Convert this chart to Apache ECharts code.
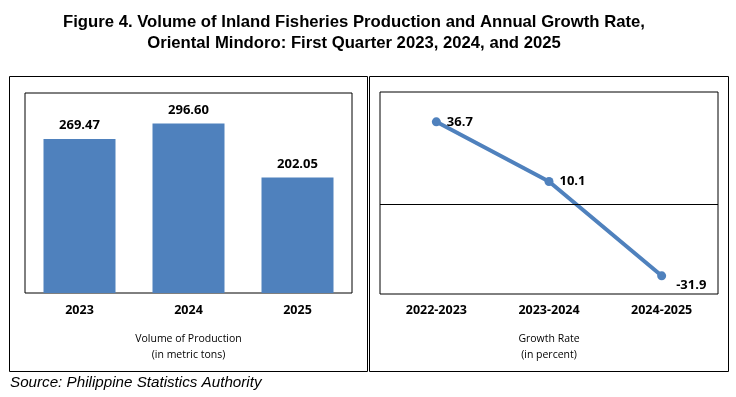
<!DOCTYPE html>
<html>
<head>
<meta charset="utf-8">
<script src="https://cdn.jsdelivr.net/npm/echarts@6/dist/echarts.min.js"></script>
<style>
  html, body { margin: 0; padding: 0; background: #fff; }
  #cht { width: 736px; height: 397px; }
</style>
</head>
<body>
<div id="cht"></div>
<script>
// volume of production, metric tons
var years = ['2023', '2024', '2025'];
var volume = [269.47, 296.60, 202.05];

// annual growth rate, percent
var periods = ['2022-2023', '2023-2024', '2024-2025'];
var growth = [36.7, 10.1, -31.9];

var chartFont = '"Open Sans", "Noto Sans", sans-serif';
var blue = '#4F81BD';

var config = {
    animation: false,
    backgroundColor: '#fff',
    graphic: [
        { type: 'text', x: 354, y: 12,
          style: { text: 'Figure 4. Volume of Inland Fisheries Production and Annual Growth Rate,\nOriental Mindoro: First Quarter 2023, 2024, and 2025',
                   fill: '#000', textAlign: 'center', lineHeight: 21,
                   font: 'bold 16.7px "Liberation Sans", Arial, sans-serif' } },
        { type: 'rect', shape: { x: 9.5, y: 76.5, width: 358, height: 295 },
          style: { fill: 'none', stroke: '#000', lineWidth: 1 } },
        { type: 'rect', shape: { x: 369.5, y: 76.5, width: 359, height: 295 },
          style: { fill: 'none', stroke: '#000', lineWidth: 1 } },
        { type: 'text', left: 10, top: 375,
          style: { text: 'Source: Philippine Statistics Authority', fill: '#000',
                   font: 'italic 15.2px "Liberation Sans", Arial, sans-serif' } }
    ],
    grid: [
        { left: 25, top: 93, width: 327, height: 200, show: true,
          borderColor: '#000', borderWidth: 1, backgroundColor: 'transparent' },
        { left: 380, top: 92, width: 338, height: 202, show: true,
          borderColor: '#000', borderWidth: 1, backgroundColor: 'transparent' }
    ],
    xAxis: [
        {
            type: 'category', gridIndex: 0, data: years,
            axisLine: { show: false }, axisTick: { show: false },
            axisLabel: { margin: 11, color: '#000', fontWeight: 'bold', fontSize: 12.5, fontFamily: chartFont },
            name: 'Volume of Production\n(in metric tons)',
            nameLocation: 'middle', nameGap: 38,
            nameTextStyle: { color: '#000', fontSize: 10.5, lineHeight: 16, fontFamily: chartFont }
        },
        {
            type: 'category', gridIndex: 1, data: periods,
            axisLine: { show: false, onZero: false }, axisTick: { show: false },
            axisLabel: { margin: 10, color: '#000', fontWeight: 'bold', fontSize: 12.5, fontFamily: chartFont },
            name: 'Growth Rate\n(in percent)',
            nameLocation: 'middle', nameGap: 37,
            nameTextStyle: { color: '#000', fontSize: 10.5, lineHeight: 16, fontFamily: chartFont }
        }
    ],
    yAxis: [
        { type: 'value', gridIndex: 0, min: 0, max: 350, show: false },
        { type: 'value', gridIndex: 1, min: -40, max: 50, show: false }
    ],
    series: [
        {
            type: 'bar', xAxisIndex: 0, yAxisIndex: 0,
            data: volume, barWidth: 72,
            itemStyle: { color: blue },
            label: {
                show: true, position: 'top', distance: 7,
                formatter: function (p) { return p.value.toFixed(2); },
                color: '#000', fontWeight: 'bold', fontSize: 13, fontFamily: chartFont
            }
        },
        {
            type: 'line', xAxisIndex: 1, yAxisIndex: 1,
            data: [
                growth[0],
                growth[1],
                { value: growth[2], label: { offset: [4, 9] } }
            ],
            symbol: 'circle', symbolSize: 9,
            lineStyle: { color: blue, width: 4 },
            itemStyle: { color: blue },
            label: {
                show: true, position: 'right', distance: 6,
                formatter: function (p) { return p.value.toFixed(1); },
                color: '#000', fontWeight: 'bold', fontSize: 13, fontFamily: chartFont
            },
            markLine: {
                silent: true, symbol: 'none', label: { show: false },
                lineStyle: { color: '#000', width: 1, type: 'solid' },
                data: [{ yAxis: 0 }]
            }
        }
    ]
};

window.onload = function () {
    var myChart = echarts.init(document.getElementById('cht'));
    myChart.setOption(config);
};
</script>
</body>
</html>
